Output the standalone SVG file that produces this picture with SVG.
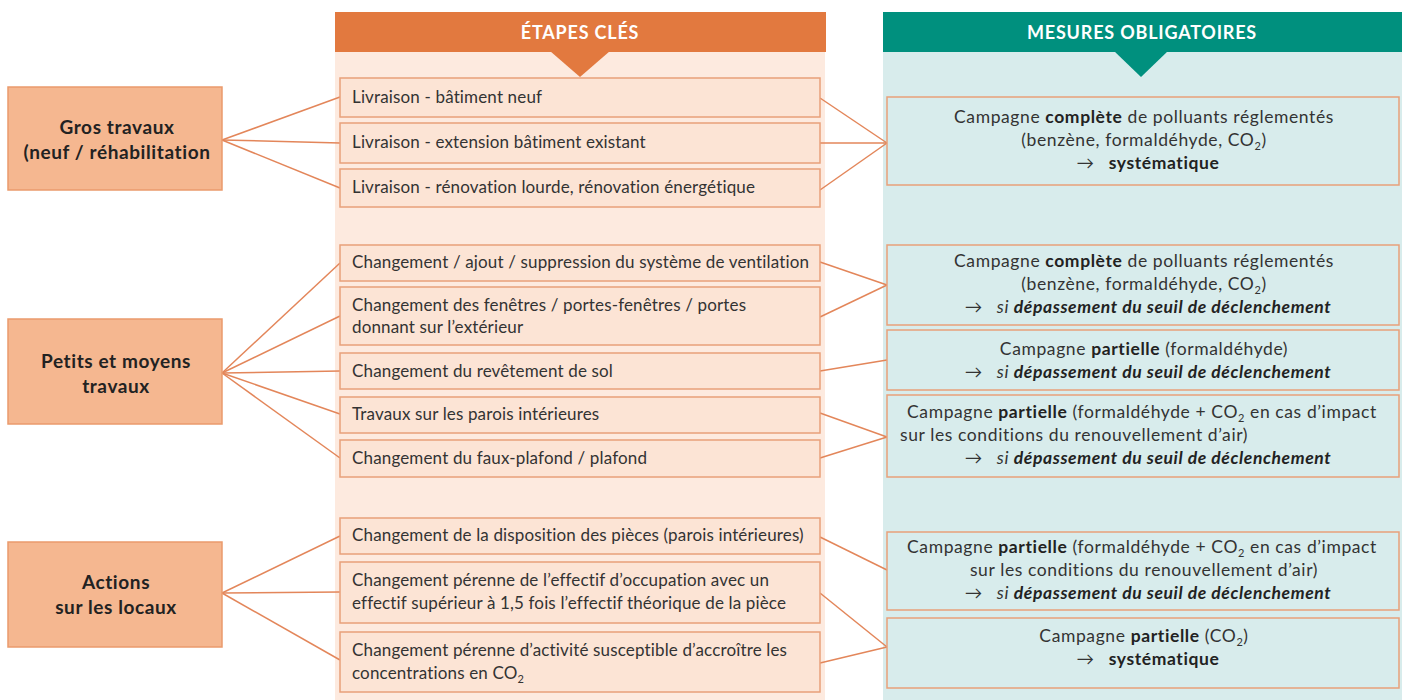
<svg xmlns="http://www.w3.org/2000/svg" width="1412" height="700" viewBox="0 0 1412 700">
<style>
.bg{fill:#ffffff}
.hdrO{fill:#e2793f}
.hdrT{fill:#00907e}
.colO{fill:#fdeadf}
.colT{fill:#d8ecec}
.lbox{fill:#f5b790;stroke:#ea9a6c;stroke-width:1.5}
.mbox{fill:#fce4d5;stroke:#e8a07a;stroke-width:1.5}
.rbox{fill:#d8ecec;stroke:#e8a07a;stroke-width:1.5}
.conn line{stroke:#e3865a;stroke-width:1.5}
.htxt{font-family:Lato,"Open Sans",sans-serif;font-weight:700;font-size:18px;letter-spacing:0.8px;fill:#ffffff;text-anchor:middle}
.ltxt{font-family:Lato,"Open Sans",sans-serif;font-weight:700;font-size:19px;letter-spacing:0.6px;fill:#222;text-anchor:middle}
.mtxt{font-family:Lato,"Open Sans",sans-serif;font-size:17px;letter-spacing:0.15px;fill:#333}
.rtxt{font-family:Lato,"Open Sans",sans-serif;font-size:17.5px;letter-spacing:0.6px;fill:#333;text-anchor:middle}
.rtl{font-family:Lato,"Open Sans",sans-serif;font-size:17.5px;letter-spacing:0.6px;fill:#333}
.b{font-weight:700;fill:#222}
.bi{font-weight:700;font-style:italic;fill:#222}
.i{font-style:italic}
.sub{font-size:11px}
</style>
<rect class="bg" x="0" y="0" width="1412" height="700"/>

<g id="column-etapes">
<rect class="colO" x="335" y="52" width="490" height="648"/>
<rect class="hdrO" x="335" y="12" width="491" height="40"/>
<polygon class="hdrO" points="550,51 610,51 580,77"/>
<text class="htxt" x="580" y="39">ÉTAPES CLÉS</text>
</g>

<g id="column-mesures">
<rect class="colT" x="883" y="52" width="519" height="648"/>
<rect class="hdrT" x="883" y="12" width="519" height="40"/>
<polygon class="hdrT" points="1114,51 1168,51 1141,77"/>
<text class="htxt" x="1142" y="39">MESURES OBLIGATOIRES</text>
</g>

<g class="conn" id="connectors">
<line x1="222" y1="140" x2="340" y2="97"/>
<line x1="222" y1="140" x2="340" y2="143"/>
<line x1="222" y1="140" x2="340" y2="188"/>
<line x1="222" y1="373" x2="340" y2="263"/>
<line x1="222" y1="373" x2="340" y2="316"/>
<line x1="222" y1="373" x2="340" y2="371"/>
<line x1="222" y1="373" x2="340" y2="414"/>
<line x1="222" y1="373" x2="340" y2="458"/>
<line x1="222" y1="593" x2="340" y2="536"/>
<line x1="222" y1="593" x2="340" y2="592"/>
<line x1="222" y1="593" x2="340" y2="660"/>
<line x1="820" y1="98" x2="887" y2="143"/>
<line x1="820" y1="143" x2="887" y2="143"/>
<line x1="820" y1="190" x2="887" y2="143"/>
<line x1="820" y1="262" x2="887" y2="285"/>
<line x1="820" y1="317" x2="887" y2="285"/>
<line x1="820" y1="371" x2="887" y2="360"/>
<line x1="820" y1="413" x2="887" y2="437"/>
<line x1="820" y1="458" x2="887" y2="437"/>
<line x1="820" y1="537" x2="887" y2="570"/>
<line x1="820" y1="593" x2="887" y2="647"/>
<line x1="820" y1="663" x2="887" y2="647"/>
</g>

<g id="gros-travaux">
<rect class="lbox" x="8" y="87" width="214" height="103"/>
<text class="ltxt" x="117" y="134">Gros travaux</text>
<text class="ltxt" x="117" y="159">(neuf / réhabilitation</text>
</g>
<g id="petits-moyens-travaux">
<rect class="lbox" x="8" y="319" width="214" height="105"/>
<text class="ltxt" x="116" y="368">Petits et moyens</text>
<text class="ltxt" x="116" y="393">travaux</text>
</g>
<g id="actions-locaux">
<rect class="lbox" x="8" y="542" width="214" height="105"/>
<text class="ltxt" x="116" y="589">Actions</text>
<text class="ltxt" x="116" y="614">sur les locaux</text>
</g>

<g id="livraison-neuf">
<rect class="mbox" x="340" y="78" width="480" height="39"/>
<text class="mtxt" x="352" y="103">Livraison - bâtiment neuf</text>
</g>
<g id="livraison-extension">
<rect class="mbox" x="340" y="123" width="480" height="40"/>
<text class="mtxt" x="352" y="148">Livraison - extension bâtiment existant</text>
</g>
<g id="livraison-renovation">
<rect class="mbox" x="340" y="169" width="480" height="38"/>
<text class="mtxt" x="352" y="193">Livraison - rénovation lourde, rénovation énergétique</text>
</g>
<g id="ventilation">
<rect class="mbox" x="340" y="245" width="480" height="36"/>
<text class="mtxt" x="352" y="268">Changement / ajout / suppression du système de ventilation</text>
</g>
<g id="fenetres">
<rect class="mbox" x="340" y="287" width="480" height="58"/>
<text class="mtxt" x="352" y="311">Changement des fenêtres / portes-fenêtres / portes</text>
<text class="mtxt" x="352" y="333">donnant sur l’extérieur</text>
</g>
<g id="revetement">
<rect class="mbox" x="340" y="353" width="480" height="36"/>
<text class="mtxt" x="352" y="377">Changement du revêtement de sol</text>
</g>
<g id="parois">
<rect class="mbox" x="340" y="397" width="480" height="36"/>
<text class="mtxt" x="352" y="420">Travaux sur les parois intérieures</text>
</g>
<g id="faux-plafond">
<rect class="mbox" x="340" y="440" width="480" height="37"/>
<text class="mtxt" x="352" y="464">Changement du faux-plafond / plafond</text>
</g>
<g id="disposition">
<rect class="mbox" x="340" y="518" width="480" height="36"/>
<text class="mtxt" x="352" y="541">Changement de la disposition des pièces (parois intérieures)</text>
</g>
<g id="effectif">
<rect class="mbox" x="340" y="562" width="480" height="61"/>
<text class="mtxt" x="352" y="586">Changement pérenne de l’effectif d’occupation avec un</text>
<text class="mtxt" x="352" y="609">effectif supérieur à 1,5 fois l’effectif théorique de la pièce</text>
</g>
<g id="activite">
<rect class="mbox" x="340" y="632" width="480" height="60"/>
<text class="mtxt" x="352" y="656">Changement pérenne d’activité susceptible d’accroître les</text>
<text class="mtxt" x="352" y="679">concentrations en CO<tspan class="sub" dy="4">2</tspan></text>
</g>

<g id="mesure-complete-systematique">
<rect class="rbox" x="887" y="97" width="512" height="88"/>
<text class="rtxt" x="1144" y="123">Campagne <tspan class="b">complète</tspan> de polluants réglementés</text>
<text class="rtxt" x="1144" y="146">(benzène, formaldéhyde, CO<tspan class="sub" dy="4">2</tspan><tspan dy="-4">)</tspan></text>
<text class="rtxt" x="1148" y="169">→<tspan class="b" dx="14">systématique</tspan></text>
</g>
<g id="mesure-complete-seuil">
<rect class="rbox" x="887" y="245" width="512" height="80"/>
<text class="rtxt" x="1144" y="267">Campagne <tspan class="b">complète</tspan> de polluants réglementés</text>
<text class="rtxt" x="1144" y="290">(benzène, formaldéhyde, CO<tspan class="sub" dy="4">2</tspan><tspan dy="-4">)</tspan></text>
<text class="rtxt" x="1148" y="313">→<tspan class="i" dx="14">si </tspan><tspan class="bi">dépassement du seuil de déclenchement</tspan></text>
</g>
<g id="mesure-partielle-formaldehyde">
<rect class="rbox" x="887" y="330" width="512" height="60"/>
<text class="rtxt" x="1144" y="355">Campagne <tspan class="b">partielle</tspan> (formaldéhyde)</text>
<text class="rtxt" x="1148" y="378">→<tspan class="i" dx="14">si </tspan><tspan class="bi">dépassement du seuil de déclenchement</tspan></text>
</g>
<g id="mesure-partielle-impact-1">
<rect class="rbox" x="887" y="395" width="512" height="82"/>
<text class="rtxt" x="1142" y="418">Campagne <tspan class="b">partielle</tspan> (formaldéhyde + CO<tspan class="sub" dy="4">2</tspan><tspan dy="-4"> en cas d’impact</tspan></text>
<text class="rtl" x="900" y="441">sur les conditions du renouvellement d’air)</text>
<text class="rtxt" x="1148" y="464">→<tspan class="i" dx="14">si </tspan><tspan class="bi">dépassement du seuil de déclenchement</tspan></text>
</g>
<g id="mesure-partielle-impact-2">
<rect class="rbox" x="887" y="532" width="512" height="78"/>
<text class="rtxt" x="1142" y="553">Campagne <tspan class="b">partielle</tspan> (formaldéhyde + CO<tspan class="sub" dy="4">2</tspan><tspan dy="-4"> en cas d’impact</tspan></text>
<text class="rtxt" x="1144" y="576">sur les conditions du renouvellement d’air)</text>
<text class="rtxt" x="1148" y="599">→<tspan class="i" dx="14">si </tspan><tspan class="bi">dépassement du seuil de déclenchement</tspan></text>
</g>
<g id="mesure-partielle-co2">
<rect class="rbox" x="887" y="618" width="512" height="70"/>
<text class="rtxt" x="1144" y="642">Campagne <tspan class="b">partielle</tspan> (CO<tspan class="sub" dy="4">2</tspan><tspan dy="-4">)</tspan></text>
<text class="rtxt" x="1148" y="665">→<tspan class="b" dx="14">systématique</tspan></text>
</g>
</svg>
